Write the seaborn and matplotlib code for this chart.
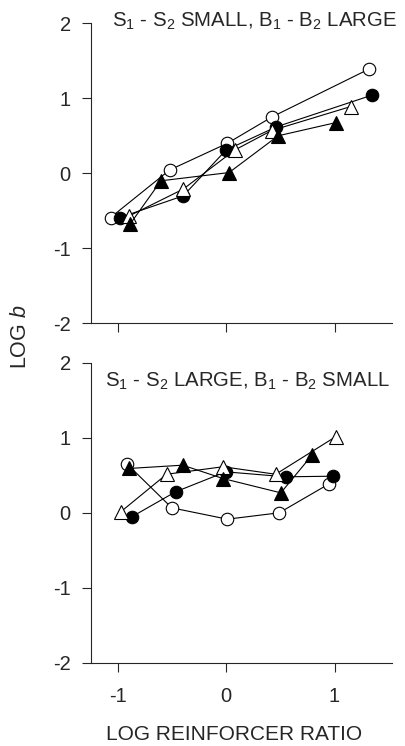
import matplotlib
matplotlib.use("Agg")
import matplotlib.pyplot as plt
import seaborn as sns
import pandas as pd

# ---- data ----
# top panel: S1-S2 small, B1-B2 large
top_oc_x = [-1.065, -0.52, 0.012, 0.428, 1.314]
top_oc_y = [-0.59, 0.044, 0.40, 0.755, 1.387]
top_fc_x = [-0.978, -0.394, 0.0, 0.465, 1.35]
top_fc_y = [-0.59, -0.30, 0.31, 0.62, 1.044]
top_ot_x = [-0.895, -0.394, 0.08, 0.42, 1.15]
top_ot_y = [-0.57, -0.21, 0.31, 0.57, 0.89]
top_ft_x = [-0.886, -0.60, 0.028, 0.48, 1.01]
top_ft_y = [-0.68, -0.10, 0.01, 0.50, 0.675]

# bottom panel: S1-S2 large, B1-B2 small
bot_oc_x = [-0.917, -0.50, 0.012, 0.49, 0.945]
bot_oc_y = [0.653, 0.062, -0.089, -0.004, 0.378]
bot_fc_x = [-0.87, -0.465, -0.003, 0.55, 0.988]
bot_fc_y = [-0.058, 0.276, 0.542, 0.476, 0.484]
bot_ot_x = [-0.97, -0.548, -0.028, 0.458, 1.01]
bot_ot_y = [0.01, 0.51, 0.61, 0.51, 1.01]
bot_ft_x = [-0.895, -0.40, -0.028, 0.505, 0.797]
bot_ft_y = [0.587, 0.631, 0.453, 0.262, 0.773]

xticks = [-1, 0, 1]
yticks = [-2, -1, 0, 1, 2]
title_top = "S$_1$ - S$_2$ SMALL, B$_1$ - B$_2$ LARGE"
title_bot = "S$_1$ - S$_2$ LARGE, B$_1$ - B$_2$ SMALL"
xlabel = "LOG REINFORCER RATIO"
ylabel = "LOG $b$"

sns.set_style("ticks")
plt.rcParams["font.family"] = ["Liberation Sans", "DejaVu Sans"]
plt.rcParams["mathtext.fontset"] = "custom"
plt.rcParams["mathtext.rm"] = "Liberation Sans"
plt.rcParams["mathtext.it"] = "Liberation Sans:italic"
plt.rcParams["axes.unicode_minus"] = False

fig = plt.figure(figsize=(4.05, 7.46), dpi=100)
W, H = 405, 746
left, right = 91 / W, 392 / W
ax1 = fig.add_axes([left, 1 - 323.3 / H, right - left, 300 / H])
ax2 = fig.add_axes([left, 1 - 662.5 / H, right - left, 300 / H])

styles = [
    ("o", "white", 9),
    ("o", "black", 9),
    ("^", "white", 9.5),
    ("^", "black", 9.5),
]

def draw(ax, series):
    for (xs, ys), (m, fc, ms) in zip(series, styles):
        df = pd.DataFrame({"x": xs, "y": ys})
        sns.lineplot(data=df, x="x", y="y", ax=ax, sort=False, estimator=None,
                     color="black", linewidth=0.8, marker=m, markersize=ms,
                     markerfacecolor=fc, markeredgecolor="black",
                     markeredgewidth=0.8)
    ax.set_xlim(-1.245, 1.53)
    ax.set_ylim(-2, 2)
    ax.set_xticks(xticks)
    ax.set_yticks(yticks)
    ax.set_xlabel("")
    ax.set_ylabel("")
    for s in ["top", "right"]:
        ax.spines[s].set_visible(False)
    for s in ["left", "bottom"]:
        ax.spines[s].set_linewidth(0.8)
    ax.tick_params(direction="out", length=6.5, width=0.8, labelsize=14.5)
    ax.tick_params(axis="x", pad=11)
    ax.tick_params(axis="y", pad=8)
    ax.set_facecolor("white")

draw(ax1, [(top_oc_x, top_oc_y), (top_fc_x, top_fc_y),
           (top_ot_x, top_ot_y), (top_ft_x, top_ft_y)])
draw(ax2, [(bot_oc_x, bot_oc_y), (bot_fc_x, bot_fc_y),
           (bot_ot_x, bot_ot_y), (bot_ft_x, bot_ft_y)])
ax1.tick_params(labelbottom=False)

ax1.text(0.07, 0.988, title_top, transform=ax1.transAxes, ha="left",
         va="baseline", fontsize=14.7)
ax2.text(0.047, 0.918, title_bot, transform=ax2.transAxes, ha="left",
         va="baseline", fontsize=14.7)

fig.text(21 / W, 1 - 337 / H, ylabel, rotation=90, ha="center", va="center",
         fontsize=15.5)
fig.text(234 / W, 1 - 735 / H, xlabel, ha="center", va="center", fontsize=15)

fig.savefig("out.png", dpi=100, facecolor="white")
